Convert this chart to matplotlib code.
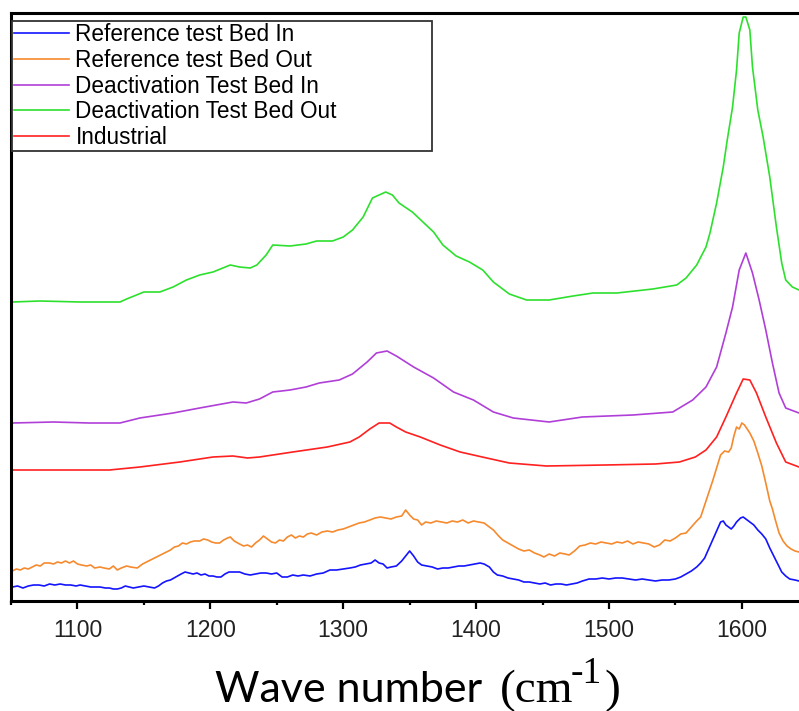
import matplotlib
matplotlib.use("Agg")
import matplotlib.pyplot as plt
from matplotlib.ticker import MultipleLocator

# ---------------- data ----------------
labels = ["Reference test Bed In", "Reference test Bed Out",
          "Deactivation Test Bed In", "Deactivation Test Bed Out", "Industrial"]
colors = ["#1414ff", "#f58a2e", "#b03fd8", "#2ee02e", "#ff2020"]

ref_in_x = [1051, 1055, 1059, 1063, 1067, 1071, 1075, 1079, 1083, 1087, 1091, 1095, 1099, 1102, 1106, 1110,
            1114, 1117, 1121, 1124, 1127, 1130, 1133, 1136, 1139, 1142, 1146, 1150, 1154, 1158, 1161, 1164,
            1167, 1170, 1174, 1178, 1181, 1184, 1187, 1190, 1193, 1196, 1199, 1202, 1205, 1208, 1211, 1214,
            1218, 1222, 1226, 1230, 1234, 1238, 1242, 1246, 1250, 1254, 1258, 1262, 1266, 1270, 1275, 1280,
            1285, 1290, 1295, 1300, 1305, 1309, 1313, 1317, 1321, 1324, 1327, 1330, 1333, 1336, 1340, 1344,
            1347, 1350, 1353, 1356, 1359, 1363, 1367, 1371, 1375, 1379, 1383, 1387, 1391, 1395, 1399, 1403,
            1406, 1410, 1413, 1416, 1420, 1424, 1428, 1432, 1436, 1440, 1444, 1448, 1452, 1456, 1460, 1464,
            1468, 1472, 1476, 1480, 1485, 1490, 1495, 1500, 1505, 1510, 1515, 1520, 1525, 1530, 1535, 1540,
            1545, 1550, 1554, 1558, 1562, 1566, 1569, 1572, 1575, 1578, 1581, 1584, 1586, 1588, 1590, 1592,
            1594, 1596, 1599, 1601, 1603, 1606, 1609, 1612, 1615, 1618, 1621, 1624, 1627, 1630, 1633, 1636,
            1640, 1643]
ref_in_y = [14, 15, 13, 15, 16, 16, 15, 17, 16, 17, 16, 16, 15, 16, 15, 14,
            14, 14, 13, 13, 12, 12, 13, 15, 14, 13, 14, 15, 14, 13, 15, 18,
            20, 21, 24, 27, 29, 28, 27, 28, 26, 27, 25, 25, 24, 24, 27, 29,
            29, 29, 27, 26, 27, 28, 28, 27, 28, 24, 24, 26, 25, 26, 25, 27,
            28, 31, 31, 32, 33, 34, 36, 37, 38, 41, 38, 37, 33, 34, 35, 40,
            45, 50, 45, 39, 36, 35, 34, 32, 33, 33, 34, 35, 35, 36, 37, 38,
            37, 34, 29, 26, 25, 23, 22, 21, 19, 19, 18, 17, 18, 16, 17, 17,
            16, 17, 18, 20, 22, 22, 23, 22, 23, 23, 22, 21, 22, 21, 20, 21,
            21, 22, 24, 27, 30, 34, 38, 43, 52, 61, 70, 79, 80, 76, 74, 72,
            75, 79, 83, 84, 82, 79, 76, 71, 67, 62, 53, 45, 37, 29, 25, 22,
            21, 20]

ref_out_x = [1051, 1054, 1057, 1060, 1063, 1066, 1069, 1072, 1075, 1079, 1082, 1085, 1088, 1091, 1094, 1097,
             1100, 1103, 1107, 1110, 1113, 1117, 1120, 1124, 1127, 1130, 1133, 1137, 1140, 1145, 1149, 1152,
             1155, 1158, 1161, 1164, 1167, 1170, 1173, 1176, 1179, 1182, 1185, 1188, 1192, 1195, 1198, 1201,
             1204, 1207, 1210, 1213, 1215, 1218, 1222, 1225, 1228, 1231, 1234, 1237, 1240, 1243, 1246, 1249,
             1252, 1255, 1258, 1261, 1264, 1267, 1270, 1273, 1276, 1280, 1284, 1288, 1292, 1296, 1300, 1304,
             1308, 1312, 1316, 1320, 1324, 1328, 1332, 1336, 1340, 1344, 1347, 1350, 1353, 1356, 1359, 1362,
             1366, 1370, 1374, 1378, 1382, 1386, 1390, 1394, 1398, 1402, 1406, 1410, 1413, 1417, 1420, 1424,
             1428, 1432, 1436, 1440, 1444, 1448, 1451, 1455, 1459, 1463, 1467, 1470, 1474, 1478, 1482, 1486,
             1490, 1494, 1498, 1502, 1506, 1510, 1514, 1518, 1522, 1526, 1530, 1534, 1538, 1542, 1546, 1550,
             1554, 1558, 1562, 1566, 1569, 1572, 1575, 1578, 1581, 1584, 1587, 1590, 1592, 1594, 1596, 1598,
             1600, 1602, 1604, 1606, 1609, 1612, 1615, 1618, 1621, 1623, 1625, 1628, 1631, 1634, 1637, 1640,
             1643]
ref_out_y = [30, 32, 31, 33, 32, 34, 36, 35, 38, 38, 37, 39, 38, 40, 38, 40,
             37, 36, 35, 36, 33, 34, 33, 32, 35, 31, 33, 35, 34, 33, 37, 39,
             41, 43, 45, 47, 49, 51, 54, 55, 58, 57, 59, 60, 60, 62, 61, 59,
             58, 58, 61, 63, 64, 60, 57, 55, 56, 54, 58, 61, 65, 62, 59, 58,
             61, 60, 64, 66, 63, 65, 64, 67, 68, 66, 69, 70, 69, 71, 72, 74,
             76, 78, 79, 81, 83, 84, 83, 82, 84, 85, 91, 86, 82, 81, 76, 79,
             78, 80, 79, 78, 80, 79, 81, 78, 80, 79, 78, 74, 71, 65, 61, 58,
             55, 52, 50, 51, 48, 46, 44, 47, 45, 48, 47, 46, 50, 55, 56, 58,
             57, 59, 58, 57, 59, 58, 60, 57, 59, 58, 57, 54, 56, 61, 60, 63,
             67, 68, 74, 80, 84, 96, 108, 120, 133, 146, 150, 149, 153, 165, 174, 172,
             178, 176, 172, 168, 160, 148, 135, 118, 100, 92, 82, 68, 60, 55, 52, 50,
             49]

deact_in_x = [1051, 1082, 1109, 1132, 1147, 1172, 1192, 1217, 1227, 1237, 1247, 1260, 1272, 1282, 1297,
              1307, 1318, 1325, 1333, 1340, 1353, 1368, 1383, 1398, 1413, 1428, 1455, 1480, 1518, 1548,
              1563, 1573, 1581, 1588, 1593, 1598, 1603, 1608, 1613, 1618, 1623, 1628, 1633, 1643]
deact_in_y = [178, 179, 178, 178, 183, 188, 193, 199, 198, 202, 209, 211, 214, 218, 221,
              227, 239, 248, 250, 245, 234, 223, 209, 201, 189, 183, 179, 184, 186, 189,
              201, 214, 234, 268, 294, 331, 348, 328, 301, 271, 238, 208, 193, 188]

deact_out_x = [1051, 1072, 1102, 1132, 1137, 1150, 1162, 1172, 1182, 1192, 1202, 1215, 1222, 1230, 1235,
               1242, 1247, 1260, 1272, 1280, 1292, 1300, 1307, 1315, 1322, 1332, 1337, 1342, 1352, 1360,
               1368, 1375, 1385, 1395, 1405, 1413, 1425, 1438, 1455, 1473, 1488, 1506, 1533, 1551, 1558,
               1566, 1573, 1576, 1581, 1586, 1589, 1593, 1596, 1598, 1601, 1603, 1606, 1608, 1612, 1616,
               1621, 1626, 1630, 1633, 1638, 1643]
deact_out_y = [299, 300, 299, 299, 302, 309, 309, 314, 321, 326, 329, 336, 334, 333, 336,
               346, 356, 355, 357, 360, 360, 364, 371, 384, 403, 409, 406, 398, 389, 379,
               369, 356, 345, 339, 331, 319, 307, 301, 301, 305, 308, 308, 312, 316, 323,
               336, 354, 368, 398, 434, 461, 494, 531, 568, 584, 584, 571, 534, 491, 464,
               424, 374, 338, 321, 314, 311]

industrial_x = [1051, 1124, 1147, 1177, 1202, 1217, 1228, 1237, 1262, 1288, 1305, 1312, 1320, 1327, 1335,
                1340, 1347, 1358, 1373, 1388, 1408, 1425, 1453, 1497, 1535, 1553, 1565, 1573, 1581, 1588,
                1596, 1601, 1606, 1611, 1618, 1626, 1633, 1643]
industrial_y = [131, 131, 134, 139, 144, 145, 143, 144, 149, 154, 159, 164, 172, 178, 178,
                174, 169, 164, 156, 149, 143, 138, 135, 136, 137, 139, 144, 151, 164, 184,
                208, 222, 221, 208, 184, 158, 139, 134]

x_ticks = [1100, 1200, 1300, 1400, 1500, 1600]
x_range = (1050, 1643)
y_range = (0, 588.5)

# ---------------- figure ----------------
W, H = 799, 711
fig = plt.figure(figsize=(W / 100, H / 100), dpi=100)
ax = fig.add_axes([11 / W, (H - 601) / H, (W - 11) / W, (601 - 12.5) / H])

series = [(ref_in_x, ref_in_y), (ref_out_x, ref_out_y), (deact_in_x, deact_in_y),
          (deact_out_x, deact_out_y), (industrial_x, industrial_y)]
for (xs, ys), lab, col in zip(series, labels, colors):
    ax.plot(xs, ys, color=col, lw=1.2, label=lab)

ax.set_xlim(*x_range)
ax.set_ylim(*y_range)
ax.set_xticks(x_ticks)
ax.xaxis.set_minor_locator(MultipleLocator(50))
ax.set_yticks([])
for s in ["left", "top", "bottom"]:
    ax.spines[s].set_linewidth(2.2)
    ax.spines[s].set_color("black")
ax.spines["right"].set_visible(False)
ax.tick_params(axis="x", which="major", direction="out", length=6, width=1.6, pad=7,
               labelsize=16.5, labelcolor="#222222")
ax.tick_params(axis="x", which="minor", direction="out", length=3, width=1.6)
for t in ax.get_xticklabels():
    t.set_fontfamily("Liberation Sans")

leg = ax.legend(loc="upper left", bbox_to_anchor=(12 / W, 0.3, 420 / W, 1 - 21 / H - 0.3),
                bbox_transform=fig.transFigure, mode="expand", borderaxespad=0,
                borderpad=0.1, labelspacing=0.12, handlelength=2.4, handletextpad=0.3,
                fancybox=False, framealpha=1,
                prop={"family": "Liberation Sans", "size": 16.3})
leg.get_frame().set_edgecolor("#333333")
leg.get_frame().set_linewidth(1.3)

# x-axis label: sans "Wave number" + serif "(cm-1)"
fig.text(215 / W, 1 - 702 / H, "Wave number", family="Lato", fontsize=31,
         ha="left", va="baseline", color="black")
fig.text(500 / W, 1 - 702 / H, "(cm", family="Liberation Serif", fontsize=34,
         ha="left", va="baseline", color="black")
fig.text(571 / W, 1 - 683 / H, "-1", family="Liberation Serif", fontsize=27,
         ha="left", va="baseline", color="black")
fig.text(604 / W, 1 - 702 / H, ")", family="Liberation Serif", fontsize=34,
         ha="left", va="baseline", color="black")

fig.savefig("out.png", dpi=100)
